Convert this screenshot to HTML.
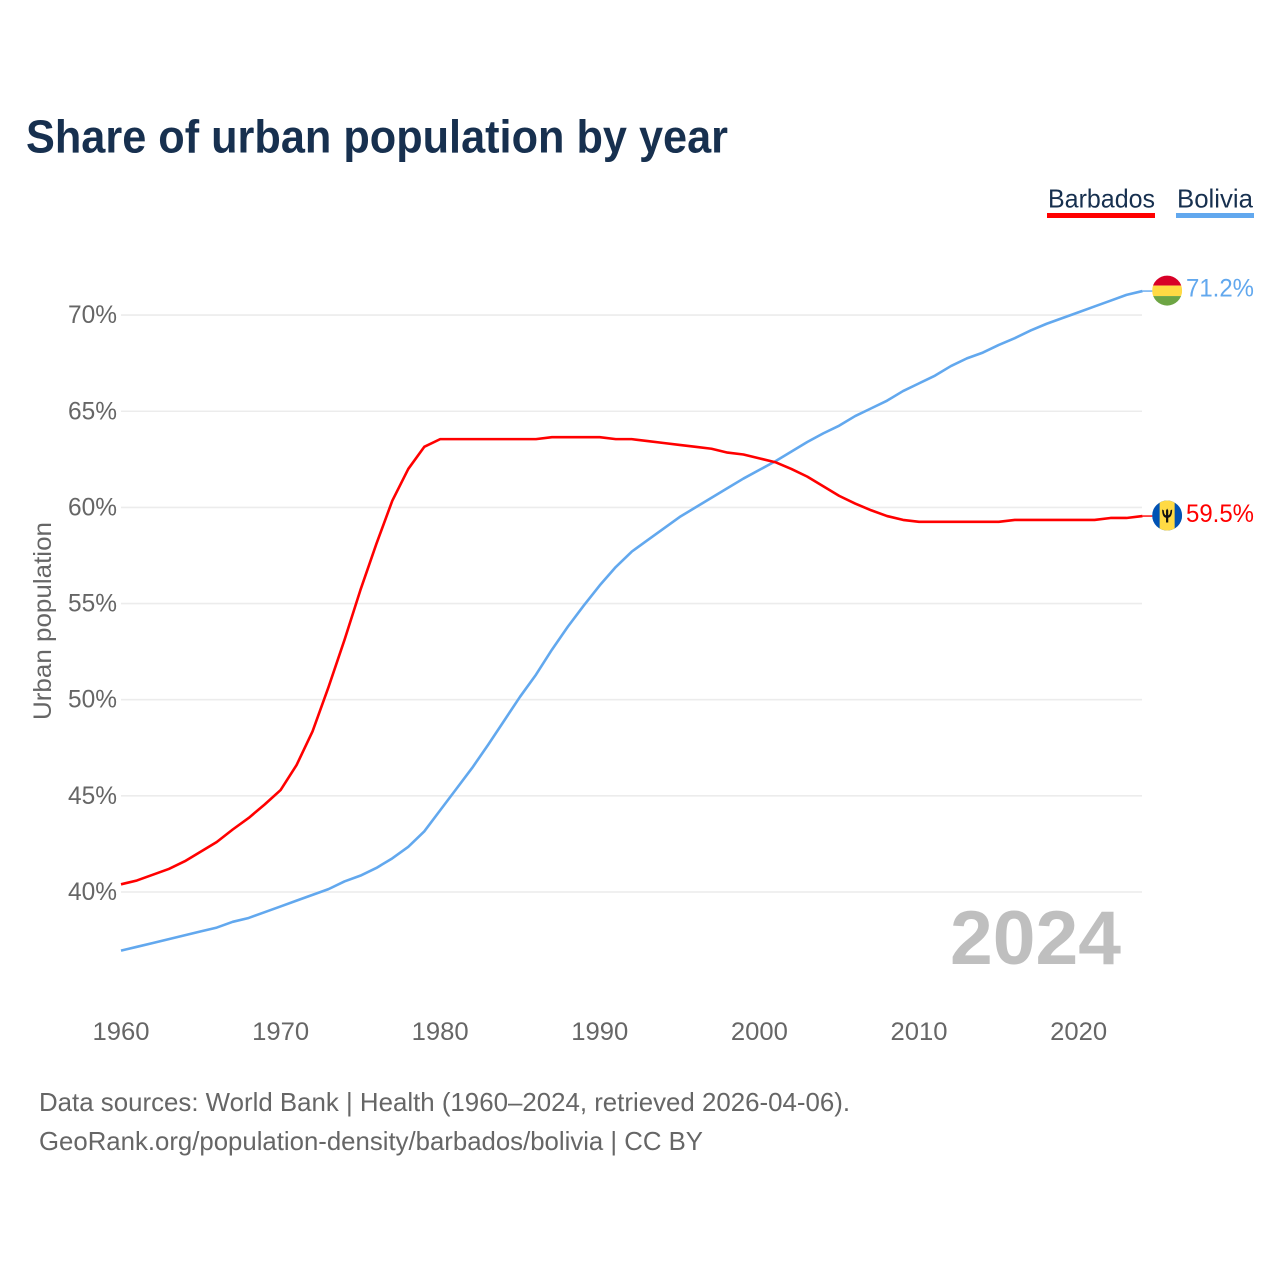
<!DOCTYPE html>
<html lang="en">
<head>
<meta charset="utf-8">
<title>Share of urban population by year</title>
<style>
html,body{margin:0;padding:0;background:#fff;width:1280px;height:1280px;overflow:hidden}
svg{display:block}
text{font-family:"Liberation Sans",sans-serif}
</style>
</head>
<body>
<svg id="chart" xmlns="http://www.w3.org/2000/svg" width="1280" height="1280" viewBox="0 0 1280 1280">
  <rect width="1280" height="1280" fill="#fff"/>
  <defs>
    <clipPath id="bolivia-clip"><circle cx="0" cy="0" r="15"/></clipPath>
    <clipPath id="barbados-clip"><circle cx="0" cy="0" r="15"/></clipPath>
  </defs>
  <text x="26" y="152.5" font-size="46" font-weight="700" fill="#17304f" textLength="702" lengthAdjust="spacingAndGlyphs">Share of urban population by year</text>

  <g>
    <text x="1048" y="207.5" font-size="26" fill="#17304f" textLength="107" lengthAdjust="spacingAndGlyphs">Barbados</text>
    <rect x="1047" y="213" width="108" height="5" fill="#ff0000"/>
  </g>
  <g>
    <text x="1177" y="207.5" font-size="26" fill="#17304f" textLength="76" lengthAdjust="spacingAndGlyphs">Bolivia</text>
    <rect x="1176" y="213" width="78" height="5" fill="#62a8ee"/>
  </g>

  <g id="grid"></g>
  <g id="y-ticks"></g>
  <g id="x-ticks"></g>

  <text transform="translate(51,720) rotate(-90)" font-size="25" fill="#666666" textLength="198" lengthAdjust="spacingAndGlyphs">Urban population</text>

  <text x="1121" y="964" text-anchor="end" font-size="76" font-weight="700" fill="#bfbfbf" textLength="171" lengthAdjust="spacingAndGlyphs">2024</text>

  <g id="series"></g>
  <g id="ends"></g>

  <text x="39" y="1111" font-size="26" fill="#666666" textLength="811" lengthAdjust="spacingAndGlyphs">Data sources: World Bank | Health (1960–2024, retrieved 2026-04-06).</text>
  <text x="39" y="1150" font-size="26" fill="#666666" textLength="664" lengthAdjust="spacingAndGlyphs">GeoRank.org/population-density/barbados/bolivia | CC BY</text>
</svg>
<script>
const years = [1960,1961,1962,1963,1964,1965,1966,1967,1968,1969,1970,1971,1972,1973,1974,1975,1976,1977,1978,1979,1980,1981,1982,1983,1984,1985,1986,1987,1988,1989,1990,1991,1992,1993,1994,1995,1996,1997,1998,1999,2000,2001,2002,2003,2004,2005,2006,2007,2008,2009,2010,2011,2012,2013,2014,2015,2016,2017,2018,2019,2020,2021,2022,2023,2024];
const barbadosValues = [40.4,40.6,40.9,41.2,41.6,42.1,42.6,43.25,43.85,44.55,45.3,46.6,48.35,50.65,53.1,55.7,58.1,60.35,62.0,63.15,63.55,63.55,63.55,63.55,63.55,63.55,63.55,63.65,63.65,63.65,63.65,63.55,63.55,63.45,63.35,63.25,63.15,63.05,62.85,62.75,62.55,62.35,62.0,61.6,61.1,60.6,60.2,59.85,59.55,59.35,59.25,59.25,59.25,59.25,59.25,59.25,59.35,59.35,59.35,59.35,59.35,59.35,59.45,59.45,59.55];
const boliviaValues = [36.95,37.15,37.35,37.55,37.75,37.95,38.15,38.45,38.65,38.95,39.25,39.55,39.85,40.15,40.55,40.85,41.25,41.75,42.35,43.15,44.25,45.35,46.45,47.65,48.9,50.15,51.3,52.6,53.8,54.9,55.95,56.9,57.7,58.3,58.9,59.5,60.0,60.5,61.0,61.5,61.95,62.4,62.9,63.4,63.85,64.25,64.75,65.15,65.55,66.05,66.45,66.85,67.35,67.75,68.05,68.45,68.8,69.2,69.55,69.85,70.15,70.45,70.75,71.05,71.25];
const yTickValues = [40,45,50,55,60,65,70];
const xTickValues = [1960,1970,1980,1990,2000,2010,2020];
const barbadosLabel = "59.5%";
const boliviaLabel = "71.2%";

const NS = "http://www.w3.org/2000/svg";
function xScale(year){ return 121 + (year - 1960) * 15.96; }
function yScale(v){ return 892 - (v - 40) * 19.23; }
function make(tag, attrs, parent){
  const el = document.createElementNS(NS, tag);
  for (const k in attrs) el.setAttribute(k, attrs[k]);
  parent.appendChild(el);
  return el;
}

const grid = document.getElementById("grid");
const yTicks = document.getElementById("y-ticks");
const xTicks = document.getElementById("x-ticks");
const seriesGroup = document.getElementById("series");
const ends = document.getElementById("ends");

yTickValues.forEach(function(v){
  const y = yScale(v);
  const line = make("line", {x1:121, x2:1142, y1:y, y2:y, stroke:"#ececec", "stroke-width":1.6}, grid);
  
  
  const t = make("text", {x:117, y:y + 8, "text-anchor":"end", "font-size":25, fill:"#666666", textLength:49, lengthAdjust:"spacingAndGlyphs"}, yTicks);
  t.textContent = v + "%";
  
  
});

xTickValues.forEach(function(yr){
  const t = make("text", {x:xScale(yr), y:1040, "text-anchor":"middle", "font-size":25, fill:"#666666", textLength:57, lengthAdjust:"spacingAndGlyphs"}, xTicks);
  t.textContent = String(yr);
  
  
});

function linePoints(values){
  return values.map(function(v, i){
    return xScale(years[i]).toFixed(2) + "," + yScale(v).toFixed(2);
  }).join(" ");
}

const boliviaLine = make("polyline", {points:linePoints(boliviaValues), fill:"none", stroke:"#62a8ee", "stroke-width":2.6, "stroke-linejoin":"round"}, seriesGroup);


const barbadosLine = make("polyline", {points:linePoints(barbadosValues), fill:"none", stroke:"#ff0000", "stroke-width":2.6, "stroke-linejoin":"round"}, seriesGroup);



const lastX = xScale(years[years.length - 1]);
const boliviaY = yScale(boliviaValues[boliviaValues.length - 1]);
const barbadosY = yScale(barbadosValues[barbadosValues.length - 1]);

const boliviaStub = make("line", {x1:lastX, x2:lastX + 10, y1:boliviaY, y2:boliviaY, stroke:"#62a8ee", "stroke-width":1.4}, ends);


const barbadosStub = make("line", {x1:lastX, x2:lastX + 10, y1:barbadosY, y2:barbadosY, stroke:"#ff0000", "stroke-width":1.4}, ends);



const flagX = lastX + 24.7;

const boliviaFlag = make("g", {transform:"translate(" + flagX + "," + (boliviaY - 0.5) + ")", "clip-path":"url(#bolivia-clip)"}, ends);


make("rect", {x:-15, y:-16, width:30, height:11, fill:"#d80027"}, boliviaFlag);
make("rect", {x:-15, y:-5, width:30, height:10.5, fill:"#ffda44"}, boliviaFlag);
make("rect", {x:-15, y:5.5, width:30, height:11, fill:"#6da544"}, boliviaFlag);

const barbadosFlag = make("g", {transform:"translate(" + flagX + "," + (barbadosY - 0.5) + ")", "clip-path":"url(#barbados-clip)"}, ends);


make("rect", {x:-15, y:-16, width:30, height:32, fill:"#0052b4"}, barbadosFlag);
make("rect", {x:-7.5, y:-16, width:15, height:32, fill:"#ffda44"}, barbadosFlag);
make("path", {d:"M-5,-6 C-5,-1 -3.8,1.8 -1.1,2.2 L-1.1,7 L1.1,7 L1.1,2.2 C3.8,1.8 5,-1 5,-6 L3.3,-5.2 C3.3,-2.4 2.4,-0.6 1.1,-0.2 L1.1,-5 L0,-7 L-1.1,-5 L-1.1,-0.2 C-2.4,-0.6 -3.3,-2.4 -3.3,-5.2 Z", fill:"#111111"}, barbadosFlag);

const boliviaValueLabel = make("text", {x:1186, y:boliviaY + 5.5, "font-size":25, fill:"#62a8ee", textLength:68, lengthAdjust:"spacingAndGlyphs"}, ends);
boliviaValueLabel.textContent = boliviaLabel;


const barbadosValueLabel = make("text", {x:1186, y:barbadosY + 6, "font-size":25, fill:"#ff0000", textLength:68, lengthAdjust:"spacingAndGlyphs"}, ends);
barbadosValueLabel.textContent = barbadosLabel;


</script>
</body>
</html>
